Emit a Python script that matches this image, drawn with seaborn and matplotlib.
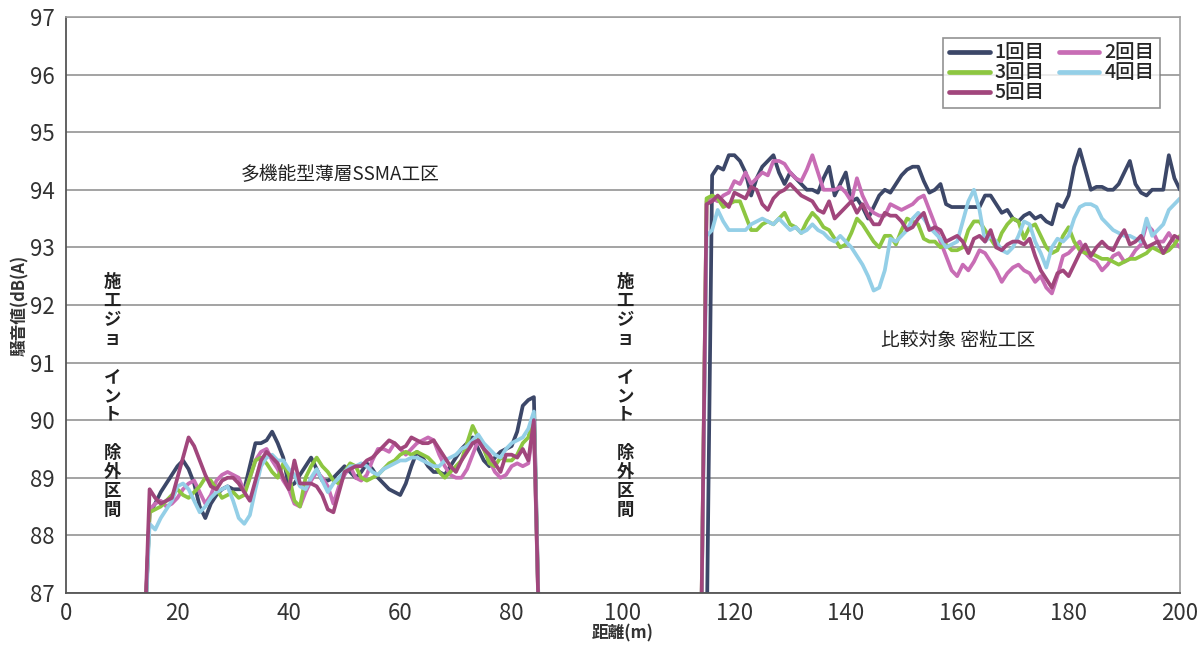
import matplotlib
matplotlib.use("Agg")
import matplotlib.pyplot as plt
import pandas as pd
import seaborn as sns

# ---------------- data ----------------
distance_left = list(range(14, 86))     # m
distance_right = list(range(114, 201))  # m
run_labels = ["1回目", "2回目", "3回目", "4回目", "5回目"]

run1_left = [86.0,
    88.4, 88.55, 88.75, 88.9, 89.05, 89.2, 89.3, 89.15, 88.9, 88.5,
    88.3, 88.55, 88.7, 88.8, 88.85, 88.8, 88.8, 88.8, 89.2, 89.6,
    89.6, 89.65, 89.8, 89.6, 89.35, 88.85, 88.9, 89.05, 89.2, 89.35,
    89.15, 88.95, 88.95, 89.0, 89.1, 89.2, 89.1, 89.0, 89.1, 89.25,
    89.15, 89.0, 88.9, 88.8, 88.75, 88.7, 88.9, 89.2, 89.45, 89.35,
    89.2, 89.1, 89.1, 89.05, 89.2, 89.35, 89.5, 89.6, 89.7, 89.5,
    89.3, 89.2, 89.35, 89.45, 89.5, 89.55, 89.8, 90.25, 90.35, 90.4,
    86.0]
run2_left = [86.0,
    88.45, 88.55, 88.6, 88.5, 88.55, 88.65, 88.8, 88.9, 88.95, 88.75,
    88.55, 88.7, 88.95, 89.05, 89.1, 89.05, 89.0, 88.75, 89.0, 89.3,
    89.45, 89.5, 89.3, 89.15, 88.95, 88.8, 88.55, 88.5, 88.75, 88.95,
    89.1, 89.0, 88.85, 88.55, 88.85, 89.05, 89.2, 89.0, 88.95, 89.05,
    89.3, 89.5, 89.5, 89.45, 89.6, 89.5, 89.4, 89.5, 89.6, 89.65,
    89.7, 89.65, 89.4, 89.2, 89.05, 89.0, 89.0, 89.15, 89.4, 89.65,
    89.5, 89.3, 89.1, 89.0, 89.05, 89.2, 89.25, 89.2, 89.25, 89.9,
    86.0]
run3_left = [86.0,
    88.4, 88.45, 88.5, 88.6, 88.7, 88.8, 88.7, 88.65, 88.75, 88.85,
    89.0, 88.95, 88.8, 88.65, 88.7, 88.75, 88.65, 88.7, 89.0, 89.3,
    89.35, 89.25, 89.1, 89.0, 89.25, 89.05, 88.6, 88.5, 89.0, 89.2,
    89.35, 89.2, 89.1, 88.95, 88.9, 89.1, 89.25, 89.2, 89.0, 88.95,
    89.0, 89.05, 89.15, 89.25, 89.3, 89.4, 89.45, 89.4, 89.45, 89.4,
    89.35, 89.25, 89.1, 89.0, 89.1, 89.2, 89.3, 89.6, 89.9, 89.7,
    89.5, 89.25, 89.2, 89.35, 89.3, 89.3, 89.4, 89.6, 89.7, 90.1,
    86.0]
run4_left = [86.0,
    88.2, 88.1, 88.3, 88.45, 88.6, 88.85, 88.9, 88.8, 88.6, 88.4,
    88.5, 88.65, 88.75, 88.8, 88.85, 88.6, 88.3, 88.2, 88.35, 88.8,
    89.2, 89.35, 89.4, 89.3, 89.3, 89.15, 89.05, 88.85, 88.8, 89.0,
    89.15, 88.95, 88.75, 88.9, 89.0, 89.1, 89.2, 89.2, 89.25, 89.2,
    89.1, 89.05, 89.15, 89.2, 89.25, 89.3, 89.3, 89.35, 89.35, 89.3,
    89.25, 89.2, 89.2, 89.3, 89.35, 89.4, 89.5, 89.55, 89.65, 89.75,
    89.6, 89.5, 89.4, 89.35, 89.5, 89.6, 89.65, 89.7, 89.85, 90.15,
    86.0]
run5_left = [86.0,
    88.8, 88.65, 88.55, 88.6, 88.65, 89.0, 89.35, 89.7, 89.55, 89.3,
    89.05, 88.85, 88.8, 88.95, 89.0, 89.0, 88.9, 88.75, 88.6, 88.95,
    89.3, 89.45, 89.35, 89.25, 89.0, 88.8, 89.3, 88.9, 88.9, 88.9,
    88.85, 88.7, 88.45, 88.4, 88.75, 89.1, 89.15, 89.2, 89.2, 89.3,
    89.35, 89.45, 89.55, 89.65, 89.6, 89.5, 89.55, 89.7, 89.65, 89.6,
    89.6, 89.65, 89.5, 89.35, 89.2, 89.1, 89.3, 89.45, 89.6, 89.65,
    89.5, 89.4, 89.25, 89.1, 89.4, 89.4, 89.35, 89.5, 89.3, 90.0,
    86.0]

run1_right = [86.0, 86.0,
    94.25, 94.4, 94.35, 94.6, 94.6, 94.5, 94.3, 93.9, 94.2, 94.4,
    94.5, 94.6, 94.3, 94.1, 94.3, 94.2, 94.1, 94.0, 94.0, 93.95,
    94.2, 94.4, 93.9, 94.1, 94.3, 93.8, 93.85, 93.7, 93.5, 93.7,
    93.9, 94.0, 93.95, 94.1, 94.25, 94.35, 94.4, 94.4, 94.15, 93.95,
    94.0, 94.1, 93.75, 93.7, 93.7, 93.7, 93.7, 93.7, 93.7, 93.9,
    93.9, 93.75, 93.6, 93.65, 93.5, 93.45, 93.55, 93.6, 93.5, 93.55,
    93.45, 93.4, 93.75, 93.7, 93.9, 94.4, 94.7, 94.35, 94.0, 94.05,
    94.05, 94.0, 94.0, 94.1, 94.3, 94.5, 94.1, 93.95, 93.9, 94.0,
    94.0, 94.0, 94.6, 94.2, 94.0]
run2_right = [86.0,
    93.8, 93.85, 93.8, 93.9, 93.95, 94.15, 94.1, 94.3, 94.1, 94.2,
    94.3, 94.25, 94.5, 94.5, 94.45, 94.3, 94.2, 94.15, 94.35, 94.6,
    94.3, 94.0, 94.0, 94.0, 94.05, 93.95, 93.8, 94.2, 93.9, 93.7,
    93.6, 93.55, 93.55, 93.75, 93.7, 93.65, 93.7, 93.75, 93.85, 93.9,
    93.65, 93.4, 93.1, 92.85, 92.6, 92.5, 92.7, 92.6, 92.75, 92.95,
    92.9, 92.75, 92.6, 92.4, 92.55, 92.65, 92.7, 92.6, 92.55, 92.4,
    92.5, 92.3, 92.2, 92.5, 92.85, 92.9, 93.0, 93.1, 92.9, 92.8,
    92.75, 92.6, 92.7, 92.85, 92.9, 92.75, 92.8, 92.95, 93.05, 93.4,
    93.3, 93.1, 93.1, 93.25, 93.1, 93.0]
run3_right = [86.0,
    93.85, 93.9, 93.85, 93.7, 93.75, 93.8, 93.8, 93.55, 93.3, 93.3,
    93.4, 93.45, 93.4, 93.5, 93.6, 93.4, 93.35, 93.25, 93.45, 93.6,
    93.5, 93.35, 93.3, 93.15, 93.0, 93.05, 93.25, 93.5, 93.4, 93.25,
    93.1, 93.0, 93.2, 93.2, 93.05, 93.3, 93.5, 93.45, 93.4, 93.15,
    93.1, 93.1, 93.0, 93.05, 92.95, 92.95, 93.0, 93.3, 93.45, 93.45,
    93.3, 93.15, 93.0, 93.25, 93.4, 93.5, 93.45, 93.15, 93.35, 93.4,
    93.2, 93.0, 92.9, 92.95, 93.2, 93.35, 93.1, 92.95, 92.9, 92.9,
    92.85, 92.8, 92.8, 92.75, 92.7, 92.75, 92.8, 92.8, 92.85, 92.9,
    93.0, 92.95, 92.9, 92.95, 93.05, 93.2]
run4_right = [86.0,
    93.2, 93.3, 93.65, 93.45, 93.3, 93.3, 93.3, 93.3, 93.4, 93.45,
    93.5, 93.45, 93.4, 93.5, 93.4, 93.3, 93.35, 93.25, 93.3, 93.4,
    93.3, 93.25, 93.15, 93.1, 93.2, 93.1, 93.0, 92.85, 92.7, 92.5,
    92.25, 92.3, 92.6, 93.15, 93.1, 93.2, 93.3, 93.5, 93.6, 93.5,
    93.35, 93.25, 93.15, 93.0, 93.05, 93.1, 93.45, 93.8, 94.0, 93.65,
    93.1, 93.2, 93.1, 92.95, 92.9, 93.0, 93.2, 93.45, 93.4, 93.1,
    92.9, 92.65, 93.0, 93.15, 93.1, 93.2, 93.5, 93.7, 93.75, 93.75,
    93.7, 93.5, 93.4, 93.3, 93.25, 93.2, 93.2, 93.15, 93.1, 93.5,
    93.2, 93.3, 93.4, 93.65, 93.75, 93.85]
run5_right = [86.0,
    93.75, 93.8, 93.9, 93.8, 93.7, 93.95, 93.9, 93.85, 94.05, 94.0,
    93.75, 93.65, 93.85, 93.95, 94.0, 94.1, 94.0, 93.9, 93.85, 93.8,
    93.65, 93.6, 93.8, 93.5, 93.6, 93.7, 93.8, 93.6, 93.75, 93.55,
    93.4, 93.4, 93.6, 93.55, 93.55, 93.45, 93.3, 93.35, 93.5, 93.6,
    93.3, 93.35, 93.3, 93.1, 93.15, 93.2, 93.1, 92.9, 93.15, 93.2,
    93.1, 93.3, 93.0, 92.95, 93.05, 93.1, 93.1, 93.05, 93.15, 92.85,
    92.6, 92.45, 92.3, 92.55, 92.6, 92.5, 92.7, 92.9, 93.05, 92.85,
    93.0, 93.1, 93.0, 92.95, 93.15, 93.3, 93.05, 93.1, 93.2, 93.0,
    93.05, 93.1, 92.9, 93.05, 93.2, 93.15]

run_colors = ["#3c4768", "#c86db5", "#8dc641", "#94cfe7", "#a1467c"]

y_ticks = [87, 88, 89, 90, 91, 92, 93, 94, 95, 96, 97]
x_ticks = [0, 20, 40, 60, 80, 100, 120, 140, 160, 180, 200]

# ---------------- build long table ----------------
left_runs = [run1_left, run2_left, run3_left, run4_left, run5_left]
right_runs = [run1_right, run2_right, run3_right, run4_right, run5_right]
rows = []
for label, lv, rv in zip(run_labels, left_runs, right_runs):
    for seg, xs, ys in (("L", distance_left, lv), ("R", distance_right, rv)):
        for x, y in zip(xs, ys):
            rows.append({"distance": x, "value": y, "run": label, "segment": seg})
df = pd.DataFrame(rows)

# ---------------- plot ----------------
sns.set_theme(style="white")
plt.rcParams["font.family"] = ["Noto Sans CJK JP", "DejaVu Sans"]

fig = plt.figure(figsize=(12.01, 6.53), dpi=100)
ax = fig.add_axes([0.055, 0.092, 0.9275, 0.882])

sns.lineplot(data=df, x="distance", y="value", hue="run", units="segment",
             estimator=None, sort=False, palette=dict(zip(run_labels, run_colors)),
             linewidth=2.7, ax=ax)

ax.set_xlim(0, 200)
ax.set_ylim(87, 97)
ax.set_xticks(x_ticks)
ax.set_yticks(y_ticks)
ax.yaxis.grid(True, color="#9c9c9c", linewidth=1.3)
ax.set_axisbelow(True)
for side in ["top", "right"]:
    ax.spines[side].set_color("#a0a0a0")
    ax.spines[side].set_linewidth(1.2)
for side in ["left", "bottom"]:
    ax.spines[side].set_color("#555555")
    ax.spines[side].set_linewidth(1.3)
ax.tick_params(axis="both", labelsize=16, colors="#333333")
ax.tick_params(axis="x", direction="inout", length=7, width=1, pad=3)
ax.tick_params(axis="y", direction="out", length=3, width=1, pad=5)

ax.set_ylabel("騒音値(dB(A)", fontsize=12, fontweight="bold", color="#333333", labelpad=1)
ax.set_xlabel("距離(m)", fontsize=12, fontweight="bold", color="#333333", labelpad=0)

# legend in row-major order
handles, labels = ax.get_legend_handles_labels()
order = [0, 2, 4, 1, 3]
leg = ax.legend([handles[i] for i in order], [labels[i] for i in order],
                ncol=2, loc="upper right", bbox_to_anchor=(0.991, 0.981),
                frameon=True, fancybox=False, edgecolor="#777777",
                prop={"size": 14, "weight": "medium"},
                handlelength=2.1, handletextpad=0.25, columnspacing=0.7,
                labelspacing=0.05, borderpad=0.3)
leg.get_frame().set_linewidth(1.2)
for line in leg.get_lines():
    line.set_linewidth(3.4)

# annotations
ax.text(49.2, 94.26, "多機能型薄層SSMA工区", ha="center", va="center",
        fontsize=13.5, color="#222222")
ax.text(160.2, 91.39, "比較対象 密粒工区", ha="center", va="center",
        fontsize=13.5, color="#222222")
vert = "施\n工\nジ\nョ\n\nイ\nン\nト\n\n除\n外\n区\n間"
for xv in (8.3, 100.4):
    ax.text(xv, 90.42, vert, ha="center", va="center", fontsize=12.5,
            fontweight="bold", color="#222222", linespacing=1.07,
            multialignment="center")

fig.savefig("out.png", dpi=100)
